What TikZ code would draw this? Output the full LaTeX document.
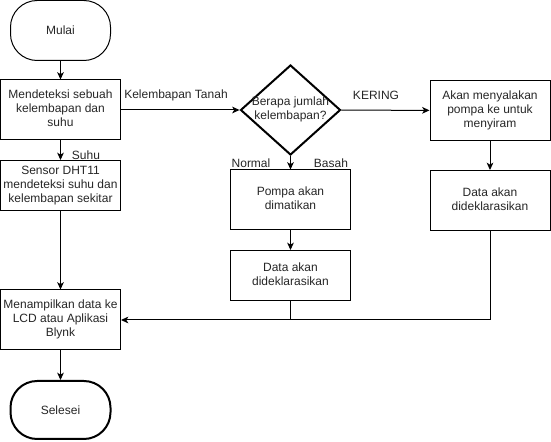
\documentclass[tikz,border=0pt]{standalone}
\usepackage{fontspec}
\setmainfont{Liberation Sans}
\usetikzlibrary{arrows.meta,shapes.geometric}
\newcommand\mylines[1]{\begin{tabular}{@{}c@{}}#1\end{tabular}}
\begin{document}
\begin{tikzpicture}[x=0.75pt,y=-0.75pt,
 every node/.style={font=\fontsize{9}{10.5}\selectfont, text=black!85},
 box/.style={draw=black, line width=0.75pt, minimum width=90pt, minimum height=45pt, inner sep=0pt},
 term/.style={draw=black, line width=1.5pt, rounded corners=20pt, minimum width=75pt, minimum height=43.5pt, inner sep=0pt},
 dec/.style={draw=black, diamond, line width=1.5pt, minimum width=75pt, minimum height=67.5pt, inner sep=0pt},
 arr/.style={-{Stealth[length=5.5pt,width=5pt,inset=1.5pt]}, line width=0.75pt},
 lbl/.style={inner sep=0pt}]
\useasboundingbox (0,0) rectangle (551,442);
\node[term, line width=0.75pt, minimum height=45pt] (mulai) at (60.5,30.5) {Mulai};
\node[box] (b1) at (60.5,110) {\mylines{Mendeteksi sebuah\\kelembapan dan\\suhu}};
\node[box, minimum height=37.5pt] (b2) at (60.5,185.5) {\mylines{Sensor DHT11\\mendeteksi suhu dan\\kelembapan sekitar}};
\node[box] (lcd) at (60.5,320) {\mylines{Menampilkan data ke\\LCD atau Aplikasi\\Blynk}};
\node[term] (sel) at (60.5,410) {Selesei};
\node[dec] (dia) at (290.5,110) {\makebox[0pt]{\mylines{Berapa jumlah\\kelembapan?}}};
\node[box] (pompa) at (290.5,200) {\mylines{Pompa akan\\dimatikan}};
\node[box, minimum height=37.5pt] (data1) at (290.5,275.5) {\mylines{Data akan\\dideklarasikan}};
\node[box] (akan) at (490,110.5) {\mylines{Akan menyalakan\\pompa ke untuk\\menyiram}};
\node[box] (data2) at (490,200.5) {\mylines{Data akan\\dideklarasikan}};
\coordinate (j) at (290.5,320);
% connectors
\draw[arr] (mulai) -- (b1);
\draw[arr] (b1) -- (b2);
\draw[arr] (b1) -- (dia);
\draw[arr] (dia) -- (akan);
\draw[arr] (dia) -- (pompa);
\draw[arr] (akan) -- (data2);
\draw[arr] (pompa) -- (data1);
\draw[arr] (b2) -- (lcd);
\draw[arr] (lcd) -- (sel);
\draw[line width=0.75pt] (data1.south) -- (j);
\draw[arr] (data2.south) |- (lcd.east);
% labels
\node[lbl] (lkt) at (176,95) {Kelembapan Tanah};
\node[lbl] (lsuhu) at (86,155) {Suhu};
\node[lbl] (lker) at (376,95) {KERING};
\node[lbl] (lnor) at (251,163) {Normal};
\node[lbl] (lbas) at (331,163) {Basah};
\end{tikzpicture}
\end{document}
